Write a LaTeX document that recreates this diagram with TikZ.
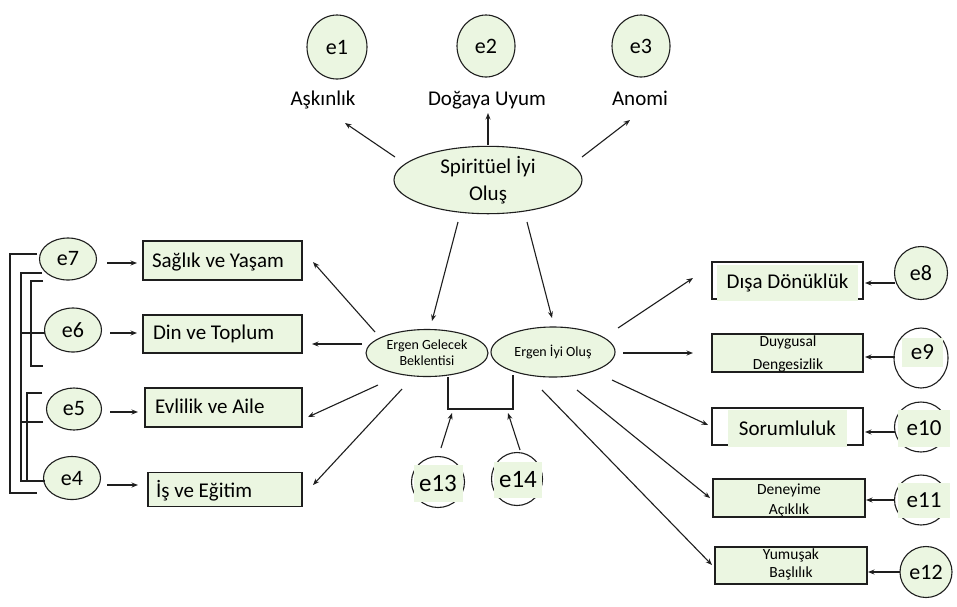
\documentclass[tikz,border=0pt]{standalone}
\usepackage{fontspec}
\setmainfont{Carlito}
\usetikzlibrary{arrows.meta,shapes.geometric}
\definecolor{lg}{RGB}{235,246,225}
\definecolor{lnc}{RGB}{30,30,30}
\begin{document}
\begin{tikzpicture}[x=1pt,y=-1pt,
  every node/.style={inner sep=0pt, outer sep=0pt},
  lat/.style={ellipse, draw=lnc, line width=1.1pt, fill=lg, align=center},
  err/.style={ellipse, draw=lnc, line width=1.1pt, fill=lg, font=\fontsize{22}{24}\selectfont},
  errring/.style={ellipse, draw=lnc, line width=1.1pt, fill=white},
  errlab/.style={rectangle, fill=lg, font=\fontsize{23}{24}\selectfont},
  obs/.style={rectangle, draw=lnc, line width=1.1pt, fill=lg},
  obsopen/.style={rectangle, draw=lnc, line width=1.1pt, fill=white},
  big/.style={font=\fontsize{21}{27}\selectfont, align=center},
  arr/.style={-{Stealth[length=6.5pt,width=5pt]}, draw=lnc, line width=1.1pt},
  wire/.style={draw=lnc, line width=1.1pt}
]
\useasboundingbox[fill=white] (0,0) rectangle (957,606);

% top error terms and indicators
\node[err, minimum width=60pt, minimum height=64pt] (e1) at (337,47) {e1};
\node[err, minimum width=58pt, minimum height=62pt] (e2) at (486,46) {e2};
\node[err, minimum width=58pt, minimum height=62pt] (e3) at (641,46) {e3};
\node[big] (ask) at (323,100) {Aşkınlık};
\node[big] (dog) at (487,100) {Doğaya Uyum};
\node[big] (ano) at (640,98) {Anomi};

% latent variables
\node[lat, minimum width=188pt, minimum height=66pt, font=\fontsize{21}{27}\selectfont] (sp) at (488,180) {Spiritüel İyi\\Oluş};
\node[lat, minimum width=122pt, minimum height=47pt, font=\fontsize{14}{16}\selectfont] (egb) at (427,353) {Ergen Gelecek\\Beklentisi};
\node[lat, minimum width=124pt, minimum height=50pt, font=\fontsize{14}{16}\selectfont] (eio) at (553,352) {Ergen İyi Oluş};

% left boxes
\node[obs, minimum width=159pt, minimum height=39pt] (sag) at (222.5,260.5) {};
\draw[draw=lnc, line width=2.6pt] (sag.north west) -- (sag.north east);
\node[big, anchor=west] (sagt) at ([shift={(9,2)}]sag.west) {Sağlık ve Yaşam};
\node[obs, minimum width=159pt, minimum height=38pt] (din) at (222.5,334) {};
\node[big, anchor=west] (dint) at ([shift={(10,0)}]din.west) {Din ve Toplum};
\node[obs, minimum width=157pt, minimum height=39pt] (evl) at (223.5,407.5) {};
\node[big, anchor=west] (evlt) at ([shift={(10,-1)}]evl.west) {Evlilik ve Aile};
\node[obs, minimum width=154pt, minimum height=34pt] (is) at (225,489.5) {};
\node[big, anchor=west] (ist) at ([shift={(8,1)}]is.west) {İş ve Eğitim};

% left error terms
\node[err, minimum width=57pt, minimum height=42pt] (e7) at (68,259) {e7};
\node[err, minimum width=57pt, minimum height=44pt] (e6) at (73,330) {e6};
\node[err, minimum width=55pt, minimum height=42pt] (e5) at (74,409) {e5};
\node[err, minimum width=57pt, minimum height=43pt] (e4) at (72,478) {e4};

% right boxes
\node[obsopen, minimum width=151pt, minimum height=37pt] (dis) at (787.5,280.5) {};
\node[rectangle, fill=lg, minimum width=141pt, minimum height=36pt, font=\fontsize{21}{25}\selectfont] (dist) at (787.5,283) {Dışa Dönüklük};
\node[obs, minimum width=151pt, minimum height=38pt] (duy) at (787.5,353) {};
\node[font=\fontsize{15.5}{23}\selectfont, align=center] (duyt) at (788,354) {Duygusal\\Dengesizlik};
\node[obsopen, minimum width=151pt, minimum height=37pt] (sor) at (787.5,426.5) {};
\node[rectangle, fill=lg, minimum width=119pt, minimum height=37pt, font=\fontsize{21}{25}\selectfont] (sort) at (787.5,428.5) {Sorumluluk};
\node[obs, minimum width=152pt, minimum height=38pt] (den) at (789,498) {};
\node[font=\fontsize{15.5}{20}\selectfont, align=center] (dent) at (789,500) {Deneyime\\Açıklık};
\node[obs, minimum width=152pt, minimum height=37pt] (yum) at (791,565.5) {};
\node[font=\fontsize{15.5}{18}\selectfont, align=center] (yumt) at (791,564) {Yumuşak\\Başlılık};

% right error terms
\node[err, minimum width=53pt, minimum height=53pt] (e8) at (921,273) {e8};
\node[errring, minimum width=54pt, minimum height=60pt] (e9) at (921,358) {};
\node[errlab, minimum width=41pt, minimum height=29pt] (e9t) at (922.5,352.5) {e9};
\node[errring, minimum width=53pt, minimum height=50pt] (e10) at (921,427) {};
\node[errlab, minimum width=52pt, minimum height=37pt] (e10t) at (924,428.5) {e10};
\node[errring, minimum width=53pt, minimum height=50pt] (e11) at (921,500) {};
\node[errlab, minimum width=52pt, minimum height=35pt] (e11t) at (924,500.5) {e11};
\node[err, minimum width=52pt, minimum height=51pt] (e12) at (926,572) {e12};

% bottom error terms
\node[errring, minimum width=53pt, minimum height=51pt] (e13) at (438,482) {};
\node[errlab, minimum width=49pt, minimum height=37pt, font=\fontsize{25}{26}\selectfont] (e13t) at (438,483.5) {e13};
\node[errring, minimum width=51pt, minimum height=53pt] (e14) at (517,479) {};
\node[errlab, minimum width=48pt, minimum height=36pt, font=\fontsize{25}{26}\selectfont] (e14t) at (518,480) {e14};

% bracket joining the two disturbances
\coordinate (bl) at (448,409);
\coordinate (br) at (513,409);
\draw[wire] ([shift={(21,24)}]egb.center) -- (bl) -- (br) -- ([shift={(-40,23)}]eio.center);

% arrows from Spiritüel İyi Oluş
\draw[arr] ([shift={(-93,-23)}]sp.center) -- ([shift={(22,23)}]ask.center);
\draw[arr] ([shift={(0,-35)}]sp.center) -- ([shift={(1,13)}]dog.center);
\draw[arr] ([shift={(94,-23)}]sp.center) -- ([shift={(-10,22)}]ano.center);
\draw[arr] ([shift={(-30,42)}]sp.center) -- ([shift={(5,-32)}]egb.center);
\draw[arr] ([shift={(39,42)}]sp.center) -- ([shift={(-1,-34)}]eio.center);

% arrows from Ergen Gelecek Beklentisi
\draw[arr] ([shift={(-52,-21)}]egb.center) -- ([shift={(90.5,1.5)}]sag.center);
\draw[arr] ([shift={(-65,-9)}]egb.center) -- ([shift={(89.5,10)}]din.center);
\draw[arr] ([shift={(-49,32)}]egb.center) -- ([shift={(84.5,9.5)}]evl.center);
\draw[arr] ([shift={(-25,36)}]egb.center) -- ([shift={(88,-4.5)}]is.center);

% arrows from Ergen İyi Oluş
\draw[arr] ([shift={(65,-24)}]eio.center) -- ([shift={(-94.5,-2.5)}]dis.center);
\draw[arr] ([shift={(70,1)}]eio.center) -- ([shift={(-94.5,0)}]duy.center);
\draw[arr] ([shift={(59,28)}]eio.center) -- ([shift={(-79.5,-1.5)}]sor.center);
\draw[arr] ([shift={(24,38)}]eio.center) -- ([shift={(-79,0)}]den.center);
\draw[arr] ([shift={(-11,38)}]eio.center) -- ([shift={(-79,-0.5)}]yum.center);

% error arrows, right
\draw[arr] ([shift={(-26,10)}]e8.center) -- ([shift={(77.5,2.5)}]dis.center);
\draw[arr] ([shift={(-26,-1)}]e9.center) -- ([shift={(77.5,4)}]duy.center);
\draw[arr] ([shift={(-26,5)}]e10.center) -- ([shift={(77.5,5.5)}]sor.center);
\draw[arr] ([shift={(-26,0)}]e11.center) -- ([shift={(77,2)}]den.center);
\draw[arr] ([shift={(-26,0)}]e12.center) -- ([shift={(77,6.5)}]yum.center);

% error arrows, left
\draw[arr] ([shift={(39,4)}]e7.center) -- ([shift={(-85.5,2.5)}]sag.center);
\draw[arr] ([shift={(37,3)}]e6.center) -- ([shift={(-85.5,-1)}]din.center);
\draw[arr] ([shift={(36,3)}]e5.center) -- ([shift={(-85.5,4.5)}]evl.center);
\draw[arr] ([shift={(35,7)}]e4.center) -- ([shift={(-87,-4.5)}]is.center);

% error arrows, bottom
\draw[arr] ([shift={(3,-34)}]e13.center) -- ([shift={(4,4)}]bl);
\draw[arr] ([shift={(3,-29)}]e14.center) -- ([shift={(-5,4)}]br);

% covariance brackets on the left
\draw[wire] ([shift={(-31,-5)}]e7.center) -- ++(-27,0) |- ([shift={(-35,15)}]e4.center);
\draw[wire] ([shift={(-26,14)}]e7.center) -- ++(-21,0) |- ([shift={(-27,3)}]e4.center);
\draw[wire] ([shift={(-28,3)}]e6.center) -- ++(-24,0);
\draw[wire] ([shift={(-31,13)}]e5.center) -- ++(-22,0);
\draw[wire] ([shift={(-30,-49)}]e6.center) -- ++(-12,0) |- ([shift={(-30,36)}]e6.center);
\draw[wire] ([shift={(-32,-16)}]e5.center) -- ++(-15,0) |- ([shift={(-27,3)}]e4.center);
\end{tikzpicture}
\end{document}
